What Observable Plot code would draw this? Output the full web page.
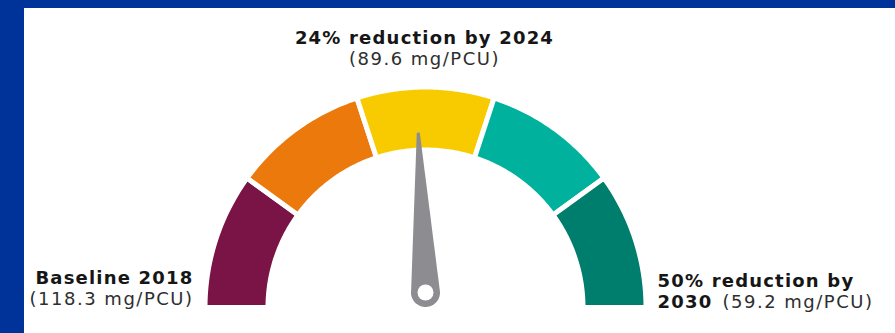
<!DOCTYPE html>
<html><head><meta charset="utf-8">
<script src="https://cdn.jsdelivr.net/npm/d3@7"></script>
<script src="https://cdn.jsdelivr.net/npm/@observablehq/plot@0.6"></script>
<style>
html,body{margin:0;padding:0;background:#00339a;width:895px;height:333px;overflow:hidden}
#chart{position:absolute;left:24px;top:8px;width:871px;height:325px;background:#fff}
#chart svg{display:block}
</style></head><body><div id="chart"></div>
<script>
// ---- data ----
const segmentNames = ["Baseline", "Early", "Midpoint", "Late", "Target"];
const segmentBounds = [118.3, 106.5, 94.7, 82.8, 71.0, 59.2];
const segmentColors = ["#7b1446", "#ec790c", "#f8cb00", "#00b29d", "#007e6d"];
const baselineValue = 118.3;
const currentTarget = 89.6;
const finalTarget = 59.2;
const titleLines = ["24% reduction by 2024", "(89.6 mg/PCU)"];
const leftLines = ["Baseline 2018", "(118.3 mg/PCU)"];
const rightLines = ["50% reduction by", "2030", "(59.2 mg/PCU)"];

// ---- geometry ----
const W = 871, H = 325, PX = 218, cx = 401, cy = 299;
const outerR = 1, innerR = 160 / 218, gapPad = 2.5 / PX;
const angle = d3.scaleLinear().domain([baselineValue, finalTarget]).range([Math.PI, 0]);

const arcPoints = [];
segmentNames.forEach((name, i) => {
  const a0 = angle(segmentBounds[i]), a1 = angle(segmentBounds[i + 1]);
  const n = 48;
  const R = outerR + gapPad, r = innerR - gapPad;
  for (let k = 0; k <= n; k++) {
    const a = a0 + (a1 - a0) * k / n;
    arcPoints.push({seg: name, color: segmentColors[i], x: R * Math.cos(a), y: R * Math.sin(a)});
  }
  for (let k = n; k >= 0; k--) {
    const a = a0 + (a1 - a0) * k / n;
    arcPoints.push({seg: name, color: segmentColors[i], x: r * Math.cos(a), y: r * Math.sin(a)});
  }
});

// needle
const pivot = {x: 0, y: 15 / PX};
const th = angle(currentTarget);
const needleLen = 160 / PX, baseR = 14.5 / PX, tipHalf = 1.5 / PX;
const tip = {x: pivot.x + needleLen * Math.cos(th), y: pivot.y + needleLen * Math.sin(th)};
const needlePts = [
  {x: tip.x + tipHalf * Math.cos(th - Math.PI / 2), y: tip.y + tipHalf * Math.sin(th - Math.PI / 2)},
  {x: tip.x + tipHalf * Math.cos(th + Math.PI / 2), y: tip.y + tipHalf * Math.sin(th + Math.PI / 2)}
];
for (let k = 0; k <= 30; k++) {
  const a = th + Math.PI / 2 + Math.PI * k / 30;
  needlePts.push({x: pivot.x + baseR * Math.cos(a), y: pivot.y + baseR * Math.sin(a)});
}

const font = "DejaVu Sans, Verdana, sans-serif";
const dark = "#161616";
const textMark = (x, y, t, o) => Plot.text([{x, y, t}], {x: "x", y: "y", text: "t", fontSize: 18, lineAnchor: "bottom", fill: dark, ...o});

const chart = Plot.plot({
  width: W, height: H, margin: 0,
  x: {domain: [-cx / PX, (W - cx) / PX], axis: null},
  y: {domain: [-(H - cy) / PX, cy / PX], axis: null},
  color: {type: "identity"},
  style: {fontFamily: font, letterSpacing: "1.2px", background: "white"},
  marks: [
    Plot.line(arcPoints, {x: "x", y: "y", z: "seg", fill: "color", stroke: "white", strokeWidth: 5, curve: "linear-closed"}),
    Plot.line(needlePts, {x: "x", y: "y", fill: "#8d8d91", stroke: "none", curve: "linear-closed"}),
    Plot.dot([pivot], {x: "x", y: "y", r: 8, fill: "white"}),
    textMark(0, outerR, titleLines[0], {dy: -46, fontWeight: "bold", textAnchor: "middle", dx: -1}),
    textMark(0, outerR, titleLines[1], {dy: -25, textAnchor: "middle", dx: -1, fill: "#2e2e2e"}),
    textMark(-outerR, 0, leftLines[0], {dx: -14, dy: -24, fontWeight: "bold", textAnchor: "end"}),
    textMark(-outerR, 0, leftLines[1], {dx: -14, dy: -3, textAnchor: "end", fill: "#2e2e2e"}),
    textMark(outerR, 0, rightLines[0], {dx: 14, dy: -21, fontWeight: "bold", textAnchor: "start"}),
    textMark(outerR, 0, rightLines[1], {dx: 14, dy: 0, fontWeight: "bold", textAnchor: "start"}),
    textMark(outerR, 0, rightLines[2], {dx: 79, dy: 0, textAnchor: "start", fill: "#2e2e2e"})
  ]
});
// regular-weight lines are set slightly wider in the reference
d3.select(chart).selectAll("g[aria-label='text']").each(function () {
  if (this.getAttribute("font-weight") !== "bold") this.setAttribute("letter-spacing", "1.5px");
});
document.getElementById("chart").appendChild(chart);
</script>
</body></html>
